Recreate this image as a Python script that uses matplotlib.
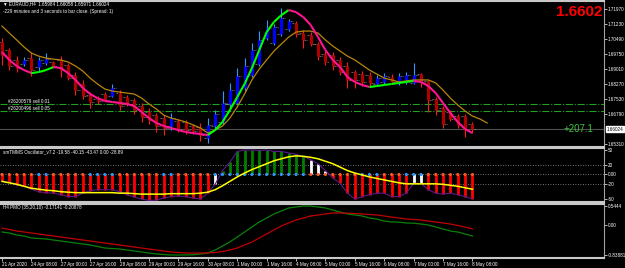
import numpy as np
import matplotlib
matplotlib.use("Agg")
import matplotlib.pyplot as plt
from matplotlib.collections import LineCollection
from matplotlib.transforms import blended_transform_factory

plt.rcParams['font.family'] = ['Liberation Sans', 'DejaVu Sans']

# EURAUD H4 candles, oldest first
opens = [1.7034, 1.6994, 1.6945, 1.6925, 1.6954, 1.6910, 1.6930, 1.6935, 1.6945, 1.6920,
         1.6870, 1.6826, 1.6771, 1.6751, 1.6776, 1.6766, 1.6781, 1.6761, 1.6747, 1.6717,
         1.6687, 1.6672, 1.6657, 1.6618, 1.6643, 1.6638, 1.6618, 1.6613, 1.6558, 1.6618,
         1.6638, 1.6727, 1.6732, 1.6806, 1.6870, 1.6925, 1.7054, 1.7029, 1.7073, 1.7098,
         1.7128, 1.7078, 1.7068, 1.7024, 1.6974, 1.6969, 1.6945, 1.6915, 1.6885, 1.6875,
         1.6870, 1.6826, 1.6836, 1.6860, 1.6831, 1.6836, 1.6831, 1.6875, 1.6841, 1.6751,
         1.6707, 1.6687, 1.6667, 1.6667, 1.6628]
closes = [1.6969, 1.6915, 1.6905, 1.6945, 1.6895, 1.6945, 1.6949, 1.6915, 1.6895, 1.6855,
          1.6796, 1.6766, 1.6737, 1.6742, 1.6747, 1.6806, 1.6717, 1.6727, 1.6697, 1.6662,
          1.6648, 1.6618, 1.6608, 1.6657, 1.6603, 1.6598, 1.6593, 1.6573, 1.6623, 1.6677,
          1.6732, 1.6796, 1.6865, 1.6915, 1.6994, 1.7044, 1.7103, 1.7108, 1.7152, 1.7138,
          1.7073, 1.7044, 1.7024, 1.6964, 1.6935, 1.6915, 1.6885, 1.6846, 1.6846, 1.6836,
          1.6831, 1.6855, 1.6865, 1.6836, 1.6865, 1.6870, 1.6870, 1.6836, 1.6747, 1.6697,
          1.6628, 1.6653, 1.6623, 1.6598, 1.6602]
highs = [1.7054, 1.7004, 1.6964, 1.6959, 1.6984, 1.6959, 1.6979, 1.6940, 1.6964, 1.6930,
         1.6885, 1.6846, 1.6786, 1.6766, 1.6786, 1.6826, 1.6796, 1.6771, 1.6756, 1.6732,
         1.6707, 1.6682, 1.6672, 1.6682, 1.6653, 1.6648, 1.6628, 1.6633, 1.6657, 1.6697,
         1.6791, 1.6831, 1.6905, 1.6954, 1.7029, 1.7088, 1.7143, 1.7123, 1.7202, 1.7148,
         1.7138, 1.7093, 1.7083, 1.7034, 1.6989, 1.6984, 1.6959, 1.6935, 1.6895, 1.6890,
         1.6885, 1.6870, 1.6880, 1.6875, 1.6880, 1.6885, 1.6930, 1.6880, 1.6846, 1.6761,
         1.6717, 1.6697, 1.6677, 1.6677, 1.6638]
lows = [1.6920, 1.6895, 1.6885, 1.6915, 1.6865, 1.6885, 1.6920, 1.6905, 1.6860, 1.6846,
        1.6771, 1.6751, 1.6707, 1.6727, 1.6742, 1.6761, 1.6697, 1.6717, 1.6677, 1.6638,
        1.6628, 1.6588, 1.6573, 1.6598, 1.6588, 1.6578, 1.6578, 1.6544, 1.6534, 1.6598,
        1.6628, 1.6697, 1.6727, 1.6791, 1.6860, 1.6915, 1.7044, 1.7019, 1.7063, 1.7088,
        1.7058, 1.7004, 1.7014, 1.6945, 1.6920, 1.6895, 1.6870, 1.6806, 1.6806, 1.6816,
        1.6811, 1.6816, 1.6821, 1.6826, 1.6821, 1.6826, 1.6826, 1.6811, 1.6687, 1.6672,
        1.6608, 1.6643, 1.6608, 1.6563, 1.6583]

fast_ma = [1.6984, 1.6945, 1.6915, 1.6895, 1.6880, 1.6885, 1.6895, 1.6910, 1.6905, 1.6880,
           1.6846, 1.6806, 1.6776, 1.6756, 1.6742, 1.6737, 1.6732, 1.6727, 1.6717, 1.6687,
           1.6657, 1.6633, 1.6618, 1.6608, 1.6598, 1.6588, 1.6583, 1.6578, 1.6573, 1.6598,
           1.6638, 1.6697, 1.6761, 1.6826, 1.6905, 1.6994, 1.7083, 1.7133, 1.7167, 1.7192,
           1.7182, 1.7157, 1.7118, 1.7058, 1.6994, 1.6945, 1.6910, 1.6860, 1.6836, 1.6821,
           1.6811, 1.6816, 1.6821, 1.6826, 1.6831, 1.6836, 1.6841, 1.6836, 1.6816, 1.6781,
           1.6732, 1.6682, 1.6638, 1.6603, 1.6583]
# slow MA is shifted 2 bars forward
slow_ma = [1.7113, 1.7078, 1.7044, 1.7009, 1.6979, 1.6964, 1.6954, 1.6949, 1.6945, 1.6935,
           1.6915, 1.6890, 1.6855, 1.6826, 1.6801, 1.6791, 1.6786, 1.6781, 1.6776, 1.6756,
           1.6727, 1.6702, 1.6672, 1.6657, 1.6648, 1.6638, 1.6623, 1.6608, 1.6583, 1.6598,
           1.6618, 1.6657, 1.6712, 1.6776, 1.6846, 1.6900, 1.6945, 1.6989, 1.7024, 1.7058,
           1.7083, 1.7088, 1.7088, 1.7078, 1.7044, 1.7014, 1.6989, 1.6964, 1.6945, 1.6920,
           1.6895, 1.6875, 1.6855, 1.6846, 1.6836, 1.6841, 1.6846, 1.6846, 1.6846, 1.6831,
           1.6796, 1.6756, 1.6722, 1.6692, 1.6667, 1.6653, 1.6633]

price_ticks = [1.71970, 1.71230, 1.70490, 1.69750, 1.69010, 1.68270, 1.67530, 1.66790, 1.65310]
bid = 1.66024
order_levels = [1.67268, 1.66922]
order_labels = ['#26200579 sell 0.01', '#26200496 sell 0.05']

# oscillator
osc_hist = [-14, -16, -21, -24, -30, -35, -37, -38, -41, -45,
            -45, -38, -33, -31, -31, -31, -35, -41, -46, -50,
            -53, -52, -48, -45, -44, -45, -48, -50, -38, -20,
            8, 25, 47, 50, 50, 49, 50, 47, 47, 44,
            41, 37, 30, 22, 8, -7, -18, -38, -50, -45,
            -41, -38, -38, -45, -45, -38, -18, -18, -31, -38,
            -40, -38, -41, -45, -50]
osc_state = ['dn'] * 29 + ['turn'] + ['up'] * 12 + ['turn'] * 3 + ['dn'] * 11 + ['turn'] * 2 + ['dn'] * 7
osc_dots = (['s'] * 5 + ['b'] * 2 + ['s'] * 5 + ['b'] * 4 + ['s'] * 6 + ['b'] * 2 + ['s'] * 5
            + ['b'] * 13 + ['s'] * 7 + ['b'] * 3 + ['s'] * 3 + ['b'] * 3 + ['s'] * 7)
osc_signal = [-14, -17, -20, -24, -28, -30, -32, -33, -35, -36,
              -37, -37, -37, -37, -37, -37, -38, -38, -39, -40,
              -40, -40, -40, -39, -39, -39, -39, -38, -36, -31,
              -23, -14, -5, 3, 10, 16, 22, 28, 32, 36,
              38, 37, 35, 32, 27, 22, 15, 8, 3, -1,
              -5, -8, -11, -14, -17, -19, -19, -19, -19, -19,
              -20, -22, -24, -27, -30]

# PMO
pmo = [-0.1896, -0.2178, -0.2743, -0.3025, -0.3590, -0.3731, -0.3872, -0.4154, -0.4437, -0.4719,
       -0.5001, -0.5283, -0.5566, -0.5989, -0.6413, -0.6554, -0.6695, -0.6977, -0.7260, -0.7542,
       -0.7824, -0.8107, -0.8248, -0.8389, -0.8388, -0.8370, -0.8330, -0.8107, -0.7824, -0.6977,
       -0.5848, -0.4719, -0.3307, -0.1896, -0.0484, 0.0927, 0.2056, 0.3186, 0.4032, 0.4879,
       0.5162, 0.5444, 0.5410, 0.5162, 0.4879, 0.4315, 0.3750, 0.3186, 0.2903, 0.2621,
       0.2056, 0.1774, 0.1209, 0.0927, 0.0900, 0.0645, 0.0600, 0.0363, 0.0080, -0.0484,
       -0.1049, -0.1614, -0.1896, -0.2460, -0.3025]
pmo_signal = [-0.0767, -0.1190, -0.1614, -0.1896, -0.2178, -0.2460, -0.2743, -0.3025, -0.3307, -0.3590,
              -0.3872, -0.4154, -0.4437, -0.4719, -0.5001, -0.5283, -0.5566, -0.5848, -0.6130, -0.6413,
              -0.6695, -0.6977, -0.7260, -0.7542, -0.7683, -0.7824, -0.7830, -0.7824, -0.7800, -0.7683,
              -0.7401, -0.6977, -0.6413, -0.5566, -0.4719, -0.3590, -0.2460, -0.1331, -0.0202, 0.0645,
              0.1492, 0.2056, 0.2621, 0.2903, 0.3186, 0.3468, 0.3470, 0.3440, 0.3327, 0.3186,
              0.3044, 0.2903, 0.2621, 0.2339, 0.2056, 0.1774, 0.1633, 0.1492, 0.1209, 0.0927,
              0.0645, 0.0363, -0.0061, -0.0484, -0.1049]

date_labels = ['21 Apr 2020', '24 Apr 08:00', '27 Apr 00:00', '27 Apr 16:00', '28 Apr 08:00',
               '29 Apr 00:00', '29 Apr 16:00', '30 Apr 08:00', '1 May 00:00', '1 May 16:00',
               '4 May 08:00', '5 May 00:00', '5 May 16:00', '6 May 08:00', '7 May 00:00',
               '7 May 16:00', '8 May 08:00']

x = np.arange(len(closes))
xlim = (-0.27, 81.9)
fs = 3.3
sep = '#c8c8c8'

fig = plt.figure(figsize=(6.25, 2.68), dpi=100, facecolor='black')
ax = fig.add_axes([0, 0.4515, 0.9664, 0.5448], facecolor='black')
ax2 = fig.add_axes([0, 0.2463, 0.9664, 0.2015], facecolor='black')
ax3 = fig.add_axes([0, 0.0373, 0.9664, 0.2015], facecolor='black')

for a in (ax, ax2, ax3):
    a.set_xlim(*xlim)
    a.spines['left'].set_visible(False)
    a.spines['top'].set_color(sep)
    a.spines['bottom'].set_color(sep)
    a.spines['top'].set_linewidth(1.5)
    a.spines['bottom'].set_linewidth(1.5)
    a.spines['right'].set_color('#a0a0a0')
    a.yaxis.tick_right()
    a.tick_params(axis='y', colors='white', labelsize=fs, length=2, width=0.5, pad=1)
    a.tick_params(axis='x', colors='white', labelsize=fs, length=2, width=0.5, pad=1)
ax.set_xticks([])
ax2.set_xticks([])

# --- main price panel ---
o = np.array(opens); c = np.array(closes)
up = c >= o
ax.vlines(x, lows, highs, colors=np.where(up, '#3399ff', '#ff1a1a'), lw=0.8, zorder=2)
ax.vlines(x, np.minimum(o, c), np.maximum(o, c), colors=np.where(up, '#0000ff', '#b00000'), lw=2.3, zorder=3)
ax.hlines(o, x - 0.55, x - 0.15, colors='#9a9a9a', lw=0.5, linestyles=(0, (2, 1)), zorder=2)
ax.hlines(c, x + 0.15, x + 0.55, colors='#9a9a9a', lw=0.5, linestyles=(0, (2, 1)), zorder=2)

ax.plot(np.arange(len(slow_ma)), slow_ma, color='#b8860b', lw=0.9, zorder=4)
fm = np.array(fast_ma)
segs = [[(i, fm[i]), (i + 1, fm[i + 1])] for i in range(len(fm) - 1)]
seg_cols = ['#00ff00' if fm[i + 1] >= fm[i] else '#ff1493' for i in range(len(fm) - 1)]
ax.add_collection(LineCollection(segs, colors=seg_cols, linewidths=1.5, zorder=5))

ax.axhline(bid, color='#505050', lw=0.8, zorder=1)
for lvl, lab in zip(order_levels, order_labels):
    ax.axhline(lvl, color='#22a022', lw=0.8, ls='-.', zorder=1)
    ax.text(0.8, lvl + 0.00025, lab, color='white', fontsize=fs, va='bottom', ha='left')

ax.set_ylim(1.6514, 1.7237)
ax.set_yticks(price_ticks)
ax.set_yticklabels(['%.5f' % p for p in price_ticks])
tr = blended_transform_factory(ax.transAxes, ax.transData)
ax.text(1.004, bid, '%.5f' % bid, transform=tr, fontsize=fs, color='black', va='center', ha='left',
        bbox=dict(boxstyle='square,pad=0.15', fc='white', ec='white'))

ax.text(0.005, 0.978, '\u25bc EURAUD,H4  1.65984 1.66058 1.65971 1.66024', transform=ax.transAxes,
        color='white', fontsize=fs, va='center', ha='left')
ax.text(0.005, 0.93, '-229 minutes and 3 seconds to bar close. (Spread: 1)', transform=ax.transAxes,
        color='white', fontsize=fs, va='center', ha='left')
ax.text(0.998, 0.928, '1.6602', transform=ax.transAxes, color='#ff0000', fontsize=11,
        fontweight='bold', va='center', ha='right')
ax.text(0.982, bid - 0.0001, '+207.1', transform=tr, color='#3cc43c', fontsize=7,
        va='center', ha='right')

# --- oscillator panel ---
state_col = {'dn': '#ff0000', 'up': '#008000', 'turn': '#ffffff'}
ax2.vlines(x, 0, osc_hist, colors=[state_col[s] for s in osc_state], lw=2.0, zorder=2)
ax2.plot(x, osc_hist, color='#5a1a8a', lw=0.8, zorder=3)
for lvl in (20, 0, -20):
    ax2.axhline(lvl, color='#9a9a9a', lw=0.6, ls=(0, (1, 2)), zorder=1)
ax2.scatter(x, np.zeros(len(x)), s=5, c=['#ff5a1e' if d == 's' else '#2e9afe' for d in osc_dots],
            zorder=4, linewidths=0)
ax2.plot(x, osc_signal, color='#ffff00', lw=1.1, zorder=5)
ax2.set_ylim(-56, 54)
ax2.set_yticks([50, 20, 0, -20, -50])
ax2.set_yticklabels(['50', '20', '0.00', '-20', '-50'])
ax2.text(0.005, 0.925, 'smTMMS Oscillator_v7.2 -19.58 -40.15 -43.47 0.00 -28.89', transform=ax2.transAxes,
         color='white', fontsize=fs, va='center', ha='left')

# --- PMO panel ---
ax3.plot(x, pmo, color='#0a800a', lw=0.9)
ax3.plot(x, pmo_signal, color='#c00000', lw=0.9)
ax3.set_ylim(-0.9236, 0.6009)
ax3.set_yticks([0.5444, 0.0, -0.83881])
ax3.set_yticklabels(['0.5444', '0.00', '-0.83881'])
ax3.text(0.005, 0.94, 'H4 PMO (35,20,10) -0.17141 -0.20878', transform=ax3.transAxes,
         color='white', fontsize=fs, va='center', ha='left')
ax3.set_xticks(x[::4])
ax3.set_xticklabels(date_labels, ha='left')

fig.savefig('out.png', dpi=100, facecolor='black')
